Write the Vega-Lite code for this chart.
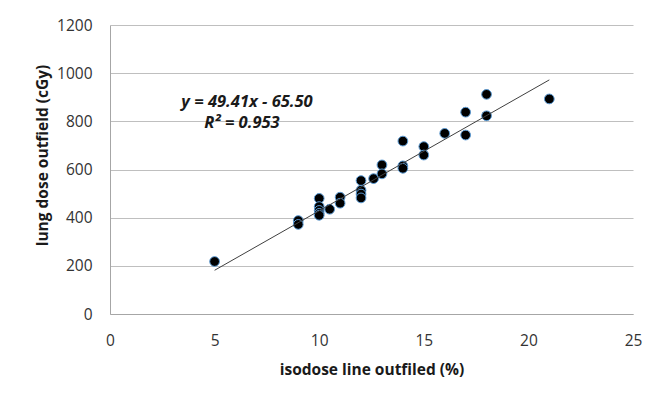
{
  "$schema": "https://vega.github.io/schema/vega-lite/v6.json",
  "width": 523,
  "height": 289,
  "autosize": "none",
  "padding": {"left": 110, "top": 25, "right": 23, "bottom": 83},
  "background": "white",
  "config": {"view": {"stroke": null}, "font": "Open Sans"},
  "datasets": {
    "points": [
      {"pct": 5, "dose": 218},
      {"pct": 9, "dose": 388},
      {"pct": 9, "dose": 372},
      {"pct": 10, "dose": 480},
      {"pct": 10, "dose": 446},
      {"pct": 10, "dose": 430},
      {"pct": 10, "dose": 418},
      {"pct": 10, "dose": 410},
      {"pct": 10.5, "dose": 435},
      {"pct": 11, "dose": 485},
      {"pct": 11, "dose": 460},
      {"pct": 12, "dose": 554},
      {"pct": 12, "dose": 514},
      {"pct": 12, "dose": 498},
      {"pct": 12, "dose": 482},
      {"pct": 12.6, "dose": 562},
      {"pct": 13, "dose": 619},
      {"pct": 13, "dose": 582},
      {"pct": 14, "dose": 718},
      {"pct": 14, "dose": 615},
      {"pct": 14, "dose": 605},
      {"pct": 15, "dose": 695},
      {"pct": 15, "dose": 660},
      {"pct": 16, "dose": 750},
      {"pct": 17, "dose": 838},
      {"pct": 17, "dose": 743},
      {"pct": 18, "dose": 912},
      {"pct": 18, "dose": 823},
      {"pct": 21, "dose": 893}
    ],
    "trend": [
      {"pct": 5, "dose": 181.55},
      {"pct": 21, "dose": 972.11}
    ],
    "labels": [
      {"pct": 6.55, "dose": 880, "label": "y = 49.41x - 65.50"},
      {"pct": 6.31, "dose": 793, "label": "R² = 0.953"}
    ]
  },
  "layer": [
    {
      "data": {"name": "points"},
      "mark": {"type": "circle", "fill": "black", "stroke": "#5b9bd5", "strokeWidth": 1, "size": 95, "opacity": 1},
      "encoding": {
        "x": {
          "field": "pct", "type": "quantitative",
          "scale": {"domain": [0, 25], "nice": false, "zero": true},
          "axis": {
            "title": "isodose line outfiled (%)",
            "values": [0, 5, 10, 15, 20, 25],
            "format": "d",
            "grid": false, "ticks": false,
            "domainColor": "#a6a6a6", "domainWidth": 1,
            "labelPadding": 19, "labelFontSize": 15.5, "labelColor": "#333333",
            "labelFlush": false,
            "titleFontSize": 15.5, "titleFontWeight": "bold", "titleColor": "#1a1a1a",
            "titleBaseline": "middle", "titleY": 55
          }
        },
        "y": {
          "field": "dose", "type": "quantitative",
          "scale": {"domain": [0, 1200], "nice": false},
          "axis": {
            "title": "lung dose outfield (cGy)",
            "values": [0, 200, 400, 600, 800, 1000, 1200],
            "format": "d",
            "grid": true, "gridColor": "#bfbfbf", "gridWidth": 1,
            "ticks": false,
            "domainColor": "#a6a6a6", "domainWidth": 1,
            "labelPadding": 18, "labelFontSize": 15.5, "labelColor": "#333333",
            "labelFlush": false,
            "titleFontSize": 15.5, "titleFontWeight": "bold", "titleColor": "#1a1a1a",
            "titleBaseline": "middle", "titleX": -68, "titleY": 130
          }
        }
      }
    },
    {
      "data": {"name": "trend"},
      "mark": {"type": "line", "color": "#404040", "strokeWidth": 1},
      "encoding": {
        "x": {"field": "pct", "type": "quantitative"},
        "y": {"field": "dose", "type": "quantitative"}
      }
    },
    {
      "data": {"name": "labels"},
      "mark": {"type": "text", "fontStyle": "italic", "fontWeight": "bold", "fontSize": 16.5, "color": "#1a1a1a"},
      "encoding": {
        "x": {"field": "pct", "type": "quantitative"},
        "y": {"field": "dose", "type": "quantitative"},
        "text": {"field": "label"}
      }
    }
  ]
}
